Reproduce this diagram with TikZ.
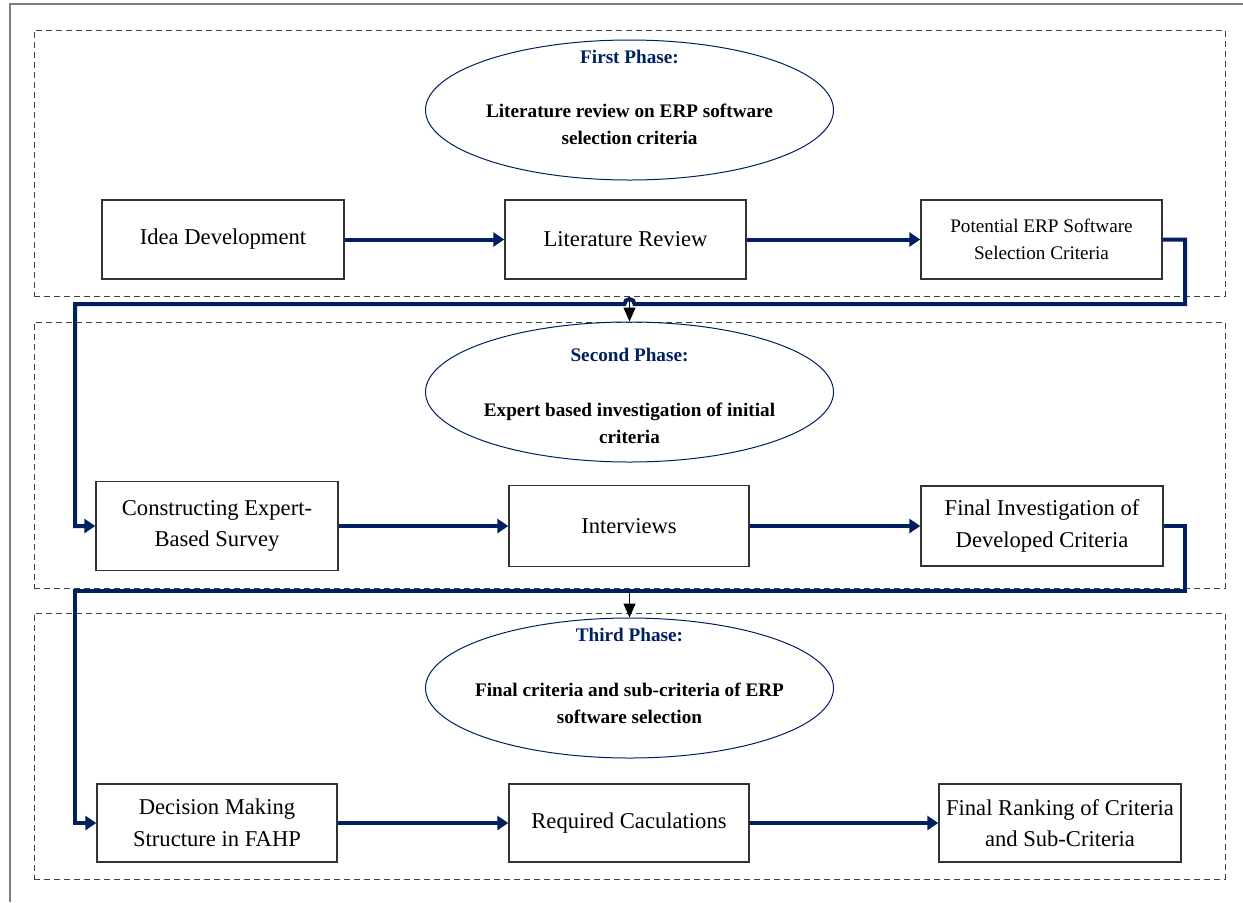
\documentclass[tikz,border=0pt]{standalone}
\usepackage{fontspec}
\setmainfont{Liberation Serif}
\usetikzlibrary{arrows.meta,shapes.geometric}
\definecolor{navy}{HTML}{002060}
\begin{document}
\begin{tikzpicture}[x=0.5pt,y=-0.5pt,
  phasebox/.style={draw=black!75, line width=0.5pt, dash pattern=on 3pt off 2pt, minimum width=595.5pt, minimum height=133pt, inner sep=0pt},
  stepbox/.style={draw=black!80, line width=0.7pt, align=center, inner sep=0pt, font=\fontsize{11.3}{15.8}\selectfont},
  phaseell/.style={draw=navy, ellipse, line width=0.5pt, minimum width=204pt, minimum height=70pt, inner sep=0pt},
  phasetitle/.style={text=navy, font=\fontsize{9.6}{13.5}\selectfont\bfseries, inner sep=0pt},
  phasetext/.style={align=center, font=\fontsize{9.6}{13.5}\selectfont\bfseries, inner sep=0pt},
  flow/.style={draw=navy, line width=2pt, -{Triangle[length=5.5pt,width=7pt]}, line join=miter},
  drop/.style={draw=black, line width=0.7pt, -{Triangle[length=7pt,width=6pt]}}
]
\useasboundingbox (0,0) rectangle (1243,902);
\fill[white] (0,0) rectangle (1243,902);
\draw[black!50, line width=1pt] (10,902) -- (10,4) -- (1243,4);

% phase boxes
\node[phasebox] (ph1) at (629.5,163) {};
\node[phasebox] (ph2) at (629.5,455) {};
\node[phasebox] (ph3) at (629.5,746) {};

% ellipses
\node[phaseell] (e1) at (629.5,110) {};
\node[phasetitle] (t1) at (629.5,57) {First Phase:};
\node[phasetext] (b1) at (629.5,124) {Literature review on ERP software\\selection criteria};

\node[phaseell] (e2) at (629.5,392) {};
\node[phasetitle] (t2) at (629.5,355) {Second Phase:};
\node[phasetext] (b2) at (629.5,423) {Expert based investigation of initial\\criteria};

\node[phaseell] (e3) at (629.5,688) {};
\node[phasetitle] (t3) at (629.5,635) {Third Phase:};
\node[phasetext] (b3) at (629.5,703.5) {Final criteria and sub-criteria of ERP\\software selection};

% row 1
\node[stepbox, minimum width=121pt, minimum height=39.5pt] (idea) at (223,239.5) {Idea Development};
\node[stepbox, minimum width=120.5pt, minimum height=39.5pt] (lit) at (625.5,239.5) {Literature Review};
\node[stepbox, minimum width=120.5pt, minimum height=39.5pt, font=\fontsize{9.6}{13.5}\selectfont] (pot) at (1041.5,239.5) {Potential ERP Software\\Selection Criteria};

% row 2
\node[stepbox, minimum width=121pt, minimum height=44.5pt] (con) at (217,526) {Constructing Expert-\\Based Survey};
\node[stepbox, minimum width=120pt, minimum height=40.5pt] (int) at (629,526) {Interviews};
\node[stepbox, minimum width=121pt, minimum height=40pt] (fin) at (1042,526) {Final Investigation of\\Developed Criteria};

% row 3
\node[stepbox, minimum width=120pt, minimum height=39pt] (dec) at (217,823) {Decision Making\\Structure in FAHP};
\node[stepbox, minimum width=120pt, minimum height=39pt] (req) at (629,823) {Required Caculations};
\node[stepbox, minimum width=121pt, minimum height=39pt] (rank) at (1060,823) {Final Ranking of Criteria\\and Sub-Criteria};

% arrows within rows
\draw[flow] (idea) -- (lit);
\draw[flow] (lit) -- (pot);
\draw[flow] (con) -- (int);
\draw[flow] (int) -- (fin);
\draw[flow] (dec) -- (req);
\draw[flow] (req) -- (rank);

% phase transitions
\draw[drop] (ph1.south) -- (e2.north);
\draw[drop] (ph2.south) -- (e3.north);
\draw[flow] (pot.east) -| (1185,304) -- (634.5,304) arc[start angle=0,end angle=180,radius=2.5pt] -- (75,304) |- (con.west);
\draw[flow] (fin.east) -| (1185,591) -- (75,591) |- (dec.west);
\end{tikzpicture}
\end{document}
